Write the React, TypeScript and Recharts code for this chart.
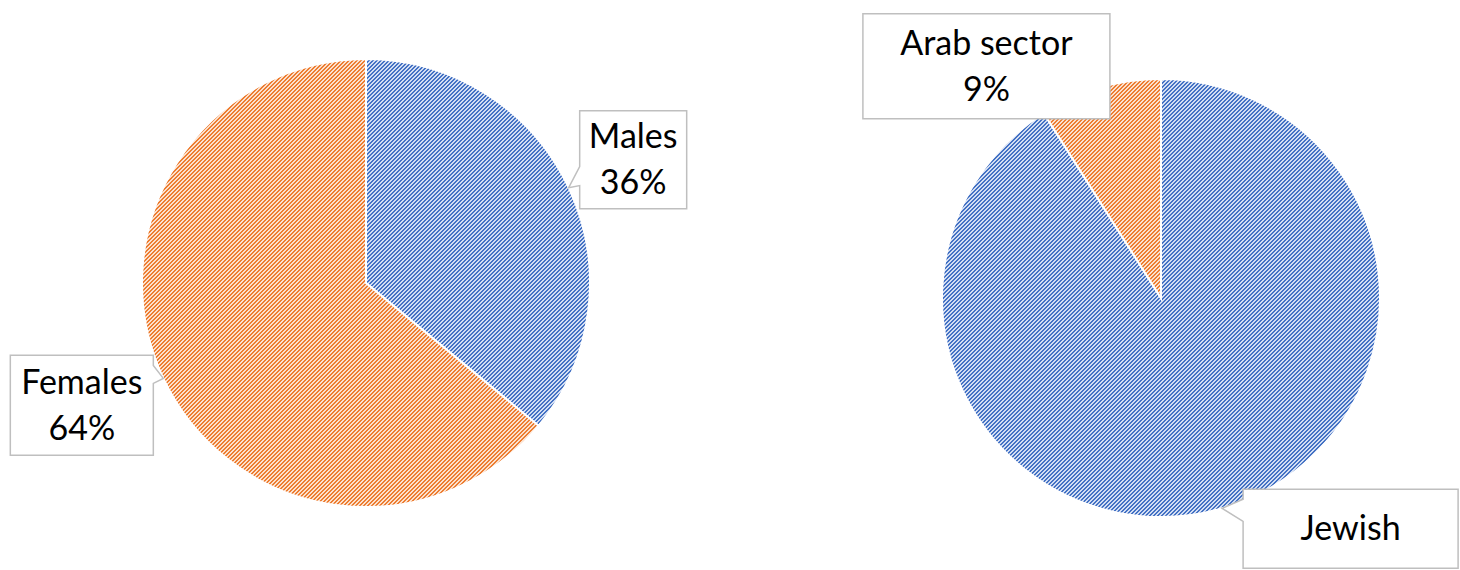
import React from 'react';
import { PieChart, Pie, Cell } from 'recharts';

// gender split
const genderNames = ['Males', 'Females'];
const genderValues = [36, 64];

// sector split
const sectorNames = ['Jewish', 'Arab sector'];
const sectorValues = [91, 9];
const sectorShowPct = [false, true];

const COLORS = ['url(#stripeBlue)', 'url(#stripeOrange)'];

const FONT = 'Lato, "Open Sans", sans-serif';
const FONT_SIZE = 34;
const LINE_H = 46;
const CAP_H = 23;

// callout boxes, placed relative to the point where the slice label anchors on the rim
type BoxCfg = {
  dx: number; dy: number; w: number; h: number;
  side?: 'left' | 'right'; n1?: number; n2?: number;
};
const BOXES: Record<string, BoxCfg> = {
  Males: { dx: 11, dy: -77, w: 107, h: 98, side: 'left', n1: 56, n2: 75 },
  Females: { dx: -153, dy: -23, w: 143, h: 100, side: 'right', n1: 10, n2: 28 },
  'Arab sector': { dx: -237, dy: -74, w: 247, h: 105 },
  Jewish: { dx: 21, dy: -19, w: 215, h: 79, side: 'left', n1: 10, n2: 32 },
};

const RAD = Math.PI / 180;

const makeLabel = (showPct: boolean[] | null) => (props: any) => {
  const { cx, cy, midAngle, outerRadius, name, percent, index } = props;
  const ax = cx + outerRadius * Math.cos(-midAngle * RAD);
  const ay = cy + outerRadius * Math.sin(-midAngle * RAD);
  const cfg = BOXES[name];
  if (!cfg) return null;
  const left = ax + cfg.dx;
  const top = ay + cfg.dy;
  const right = left + cfg.w;
  const bottom = top + cfg.h;
  let d = `M${left},${top} H${right} V${bottom} H${left} Z`;
  if (cfg.side === 'left') {
    d = `M${left},${top} H${right} V${bottom} H${left} V${top + cfg.n2!} L${ax},${ay} L${left},${top + cfg.n1!} Z`;
  } else if (cfg.side === 'right') {
    d = `M${left},${top} H${right} V${top + cfg.n1!} L${ax},${ay} L${right},${top + cfg.n2!} V${bottom} H${left} Z`;
  }
  const pct = `${Math.round(percent * 100)}%`;
  const lines = showPct && !showPct[index] ? [name] : [name, pct];
  const mid = top + cfg.h / 2;
  return (
    <g key={`lbl-${name}`}>
      <path d={d} fill="#ffffff" stroke="#bfbfbf" strokeWidth={1.5} />
      {lines.map((t, i) => (
        <text
          key={i}
          x={left + cfg.w / 2}
          y={mid + (i - (lines.length - 1) / 2) * LINE_H + CAP_H / 2}
          textAnchor="middle"
          fontFamily={FONT}
          fontSize={FONT_SIZE}
          fill="#000000"
        >
          {t}
        </text>
      ))}
    </g>
  );
};

// 4x4 pixel tile for the "/" hatching: two dark pixels per row
const stripeRows = [0, 1, 2, 3];

const Hatch = ({ id, bg, fg }: { id: string; bg: string; fg: string }) => (
  <pattern id={id} width={4} height={4} patternUnits="userSpaceOnUse">
    <rect width={4} height={4} fill={bg} />
    {stripeRows.map((y) => {
      const x0 = (4 - y) % 4;
      return (
        <g key={y}>
          <rect x={x0} y={y} width={1} height={1} fill={fg} />
          <rect x={(x0 + 1) % 4} y={y} width={1} height={1} fill={fg} />
        </g>
      );
    })}
  </pattern>
);

export default function App() {
  const genderData = genderNames.map((n, i) => ({ name: n, value: genderValues[i] }));
  const sectorData = sectorNames.map((n, i) => ({ name: n, value: sectorValues[i] }));

  return (
    <div style={{ position: 'absolute', left: 0, top: 0, background: '#fff' }}>
      <PieChart width={1460} height={570} margin={{ top: 0, right: 0, bottom: 0, left: 0 }}>
        <defs>
          <Hatch id="stripeBlue" bg="#d3def3" fg="#4472c4" />
          <Hatch id="stripeOrange" bg="#fbe1ce" fg="#ed7d31" />
        </defs>
        <Pie
          data={genderData}
          dataKey="value"
          nameKey="name"
          cx={366}
          cy={283}
          outerRadius={224}
          startAngle={90}
          endAngle={-270}
          stroke="#ffffff"
          strokeWidth={2}
          label={makeLabel(null)}
          labelLine={false}
          isAnimationActive={false}
        >
          {genderData.map((e, i) => (
            <Cell key={`g-${i}`} fill={COLORS[i % COLORS.length]} />
          ))}
        </Pie>
        <Pie
          data={sectorData}
          dataKey="value"
          nameKey="name"
          cx={1161}
          cy={298}
          outerRadius={219}
          startAngle={90}
          endAngle={-270}
          stroke="#ffffff"
          strokeWidth={2}
          label={makeLabel(sectorShowPct)}
          labelLine={false}
          isAnimationActive={false}
        >
          {sectorData.map((e, i) => (
            <Cell key={`s-${i}`} fill={COLORS[i % COLORS.length]} />
          ))}
        </Pie>
      </PieChart>
    </div>
  );
}
